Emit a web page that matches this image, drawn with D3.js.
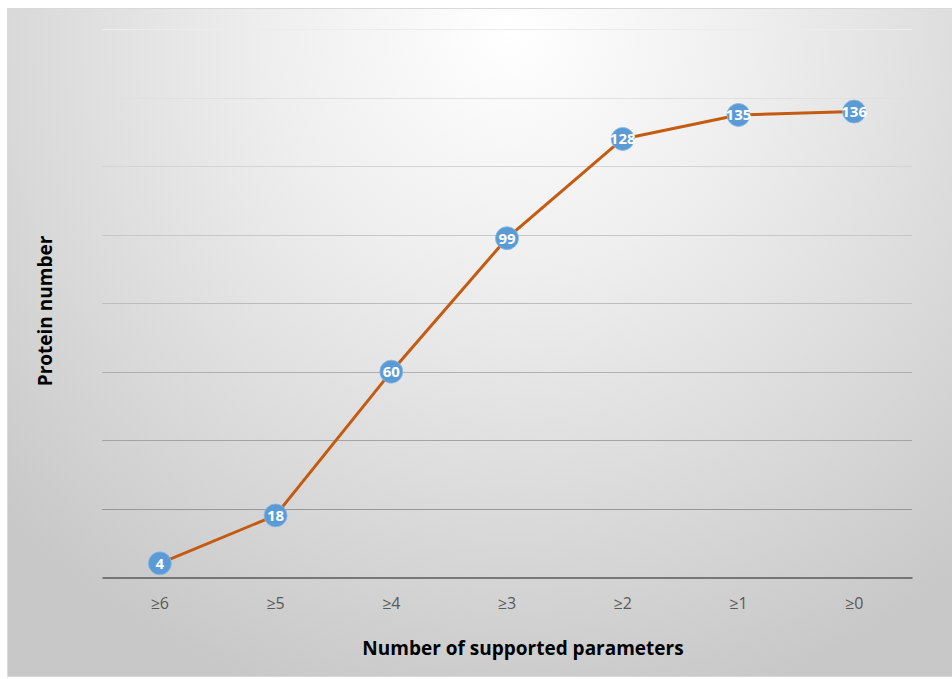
<!DOCTYPE html>
<html>
<head>
<meta charset="utf-8">
<script src="https://cdn.jsdelivr.net/npm/d3@7"></script>
<style>
  html, body { margin: 0; padding: 0; background: #ffffff; }
  svg { display: block; }
</style>
</head>
<body>
<script>
// Cumulative protein counts by minimum number of supported parameters
const categories = ["≥6", "≥5", "≥4", "≥3", "≥2", "≥1", "≥0"];
const proteinCounts = [4, 18, 60, 99, 128, 135, 136];
const gridValues = [0, 20, 40, 60, 80, 100, 120, 140, 160];

const W = 952, H = 679;
const margin = { left: 102, right: 40, top: 29.4, bottom: 102 };
const FONT = "'Open Sans', Lato, sans-serif";

const svg = d3.select("body").append("svg")
  .attr("width", W).attr("height", H);

const defs = svg.append("defs");
const bg = defs.append("radialGradient")
  .attr("id", "bgGrad")
  .attr("gradientUnits", "userSpaceOnUse")
  .attr("cx", 510).attr("cy", 30).attr("r", 700);
bg.append("stop").attr("offset", 0).attr("stop-color", "#ffffff");
bg.append("stop").attr("offset", 0.35).attr("stop-color", "#eeeeee");
bg.append("stop").attr("offset", 1).attr("stop-color", "#c8c8c8");

// chart frame
svg.append("rect")
  .attr("x", 7.5).attr("y", 8.5)
  .attr("width", W - 7).attr("height", H - 11)
  .attr("fill", "url(#bgGrad)")
  .attr("stroke", "#d9d9d9").attr("stroke-width", 1);

const x = d3.scaleBand()
  .domain(categories)
  .range([margin.left, W - margin.right]);

const y = d3.scaleLinear()
  .domain([0, 160])
  .range([H - margin.bottom, margin.top]);

// gridlines fade from light at the top to darker near the baseline
const gridShade = d3.scaleLinear()
  .domain([160, 0])
  .range(["#ececec", "#8c8c8c"]);

svg.append("g")
  .selectAll("line")
  .data(gridValues.filter(v => v > 0))
  .join("line")
  .attr("x1", margin.left).attr("x2", W - margin.right)
  .attr("y1", d => Math.round(y(d)) + 0.5)
  .attr("y2", d => Math.round(y(d)) + 0.5)
  .attr("stroke", d => gridShade(d))
  .attr("stroke-width", 1.2);

// category axis
const xAxis = svg.append("g")
  .attr("transform", `translate(0,${Math.round(y(0)) + 0.5})`)
  .call(d3.axisBottom(x).tickSize(0).tickPadding(20));
xAxis.select(".domain")
  .attr("stroke", "#595959").attr("stroke-width", 1.6);
xAxis.selectAll("text")
  .attr("fill", "#595959")
  .style("font-family", FONT)
  .style("font-size", "16px");

// series line
const line = d3.line()
  .x((d, i) => x(categories[i]) + x.bandwidth() / 2)
  .y(d => y(d));

svg.append("path")
  .datum(proteinCounts)
  .attr("fill", "none")
  .attr("stroke", "#c55a11")
  .attr("stroke-width", 3)
  .attr("stroke-linejoin", "round")
  .attr("d", line);

// markers with value labels
const pts = svg.append("g")
  .selectAll("g")
  .data(proteinCounts)
  .join("g")
  .attr("transform", (d, i) => `translate(${x(categories[i]) + x.bandwidth() / 2},${y(d)})`);

pts.append("circle")
  .attr("r", 11.5)
  .attr("fill", "#5b9bd5")
  .attr("stroke", "#8ab8e6")
  .attr("stroke-width", 0.8);

pts.append("text")
  .attr("text-anchor", "middle")
  .attr("dy", "0.36em")
  .attr("fill", "#ffffff")
  .style("font-family", FONT)
  .style("font-weight", "bold")
  .style("font-size", "15px")
  .text(d => d);

// axis titles
svg.append("text")
  .attr("x", 523)
  .attr("y", 655)
  .attr("text-anchor", "middle")
  .attr("fill", "#000")
  .style("font-family", FONT)
  .style("font-weight", "bold")
  .style("font-size", "19px")
  .text("Number of supported parameters");

svg.append("text")
  .attr("transform", "translate(52,311) rotate(-90)")
  .attr("text-anchor", "middle")
  .attr("fill", "#000")
  .style("font-family", FONT)
  .style("font-weight", "bold")
  .style("font-size", "19px")
  .text("Protein number");
</script>
</body>
</html>
